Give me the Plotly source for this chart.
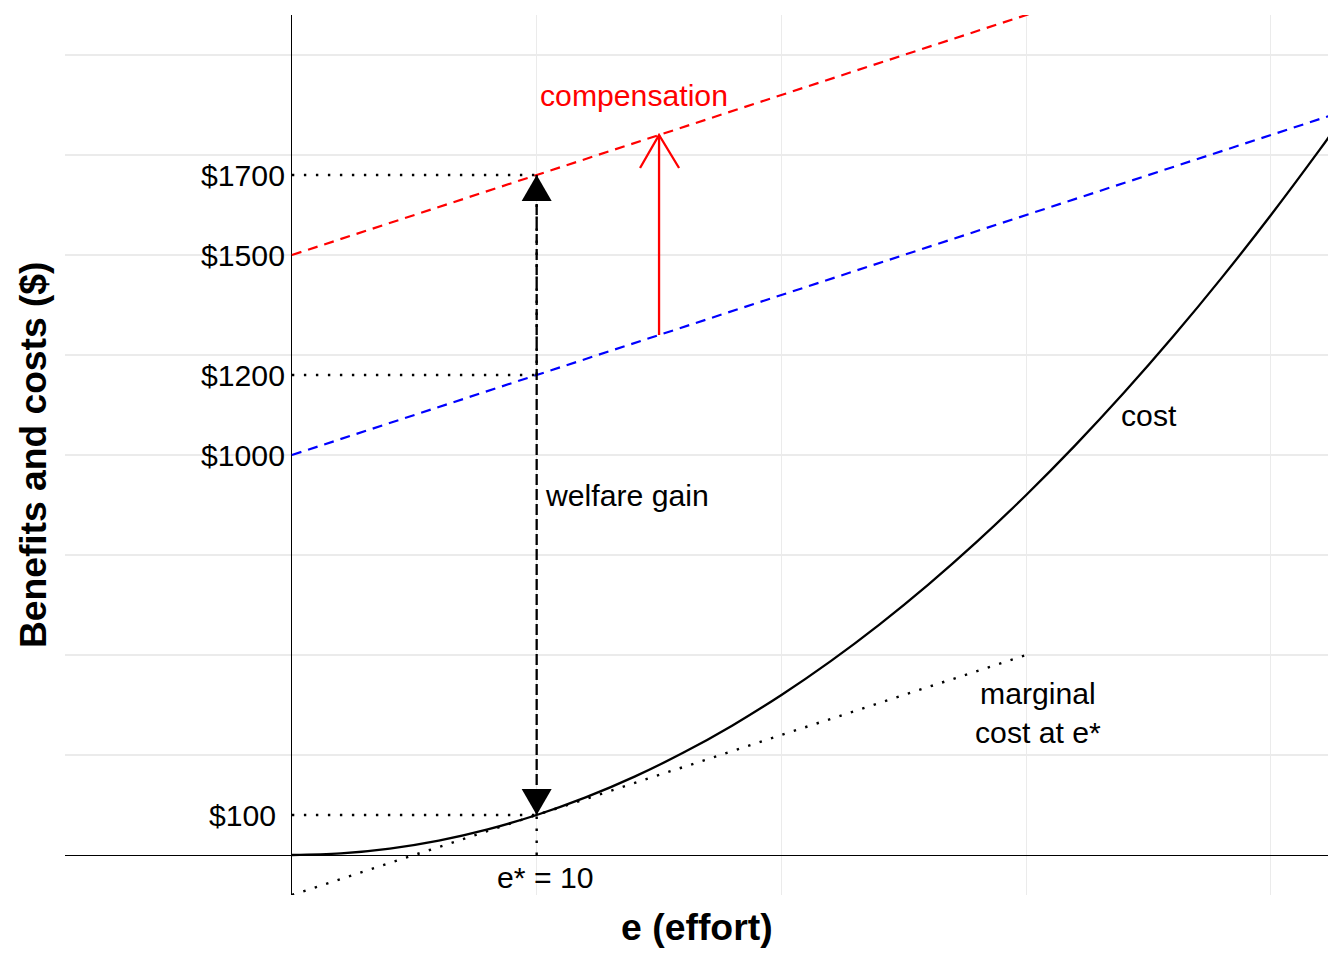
import plotly.graph_objects as go

# ---------------- data ----------------
effort = [0, 2, 4, 6, 8, 10, 12, 14, 16, 18, 20, 22, 24, 26, 28, 30, 32, 34, 36, 38, 40, 42, 42.4]
cost = [0, 4, 16, 36, 64, 100, 144, 196, 256, 324, 400, 484, 576, 676, 784, 900,
        1024, 1156, 1296, 1444, 1600, 1764, 1798]

line_e = [0, 42.4]
benefit_base = [1000, 1848]      # blue dashed
benefit_comp = [1500, 2348]      # red dashed

mc_e = [0, 30]
mc_cost = [-100, 500]            # marginal cost at e*

e_star = 10
guide_levels = [100, 1200, 1700]
guide_labels = ["$100", "$1200", "$1700"]
intercept_levels = [1000, 1500]
intercept_labels = ["$1000", "$1500"]
label_x = -2

welfare_low, welfare_high = 100, 1700
comp_e = 15
comp_low, comp_high = 1300, 1800

x_range = [-9.27, 42.33]
y_range = [-100, 2100]

FONT = "Liberation Sans, Arial, Helvetica, sans-serif"
LBL = 30.2

fig = go.Figure()

# cost curve
fig.add_trace(go.Scatter(x=effort, y=cost, mode="lines", line=dict(color="black", width=2.3, shape="spline"),
                         hoverinfo="skip", showlegend=False))
# marginal cost
fig.add_trace(go.Scatter(x=mc_e, y=mc_cost, mode="lines",
                         line=dict(color="black", width=2.4, dash="2.4px,9.6px"),
                         hoverinfo="skip", showlegend=False))
# benefit lines
fig.add_trace(go.Scatter(x=line_e, y=benefit_base, mode="lines",
                         line=dict(color="#0000FF", width=2.2, dash="10px,7px"),
                         hoverinfo="skip", showlegend=False))
fig.add_trace(go.Scatter(x=line_e, y=benefit_comp, mode="lines",
                         line=dict(color="#FF0000", width=2.2, dash="10px,7px"),
                         hoverinfo="skip", showlegend=False))

dot = dict(color="black", width=2.4, dash="2.4px,9.6px")
# dotted horizontal guides
for lv in guide_levels:
    fig.add_trace(go.Scatter(x=[0, e_star], y=[lv, lv], mode="lines", line=dot,
                             hoverinfo="skip", showlegend=False))
# dotted vertical guides
fig.add_trace(go.Scatter(x=[e_star, e_star], y=[0, guide_levels[0]], mode="lines", line=dot,
                         hoverinfo="skip", showlegend=False))
fig.add_trace(go.Scatter(x=[e_star, e_star], y=[guide_levels[1], guide_levels[2]], mode="lines", line=dot,
                         hoverinfo="skip", showlegend=False))
# welfare gain dashed shaft
fig.add_trace(go.Scatter(x=[e_star, e_star], y=[welfare_low, welfare_high], mode="lines",
                         line=dict(color="black", width=2.3, dash="11px,4px"),
                         hoverinfo="skip", showlegend=False))
# compensation arrow shaft
fig.add_trace(go.Scatter(x=[comp_e, comp_e], y=[comp_low, comp_high], mode="lines",
                         line=dict(color="#FF0000", width=2.3),
                         hoverinfo="skip", showlegend=False))

shapes = [
    dict(type="path", xref="x", yref="y", xsizemode="pixel", ysizemode="pixel",
         xanchor=e_star, yanchor=welfare_high, path="M0,0 L-15,-26 L15,-26 Z",
         fillcolor="black", line=dict(width=0)),
    dict(type="path", xref="x", yref="y", xsizemode="pixel", ysizemode="pixel",
         xanchor=e_star, yanchor=welfare_low, path="M0,0 L-15,26 L15,26 Z",
         fillcolor="black", line=dict(width=0)),
    dict(type="path", xref="x", yref="y", xsizemode="pixel", ysizemode="pixel",
         xanchor=comp_e, yanchor=comp_high, path="M-19,-33 L0,0 L20,-33",
         fillcolor="rgba(0,0,0,0)", line=dict(color="#FF0000", width=2.3)),
]

ann = []
for lv, lb in zip(guide_levels + intercept_levels, guide_labels + intercept_labels):
    ann.append(dict(x=label_x, y=lv, xref="x", yref="y", text=lb, showarrow=False,
                    xanchor="center", yanchor="middle",
                    font=dict(family=FONT, size=LBL, color="black")))
ann += [
    dict(x=e_star, y=1900, xref="x", yref="y", text="compensation", showarrow=False,
         xanchor="left", yanchor="middle", xshift=1, font=dict(family=FONT, size=LBL, color="#FF0000")),
    dict(x=e_star, y=900, xref="x", yref="y", text="welfare gain", showarrow=False,
         xanchor="left", yanchor="middle", xshift=6, font=dict(family=FONT, size=LBL, color="black")),
    dict(x=35, y=1100, xref="x", yref="y", text="cost", showarrow=False,
         xanchor="center", yanchor="middle", font=dict(family=FONT, size=LBL, color="black")),
    dict(x=30.5, y=355, xref="x", yref="y", text="marginal<br>cost at e*", showarrow=False,
         xanchor="center", yanchor="middle", font=dict(family=FONT, size=LBL, color="black")),
    dict(x=10.35, y=-57, xref="x", yref="y", text="e* = 10", showarrow=False,
         xanchor="center", yanchor="middle", font=dict(family=FONT, size=LBL, color="black")),
    dict(x=0.5, y=-0.0364, xref="paper", yref="paper", text="<b>e (effort)</b>", showarrow=False,
         xanchor="center", yanchor="middle", font=dict(family=FONT, size=37.4, color="black")),
    dict(x=-0.0253, y=0.5, xref="paper", yref="paper", text="<b>Benefits and costs ($)</b>",
         showarrow=False, textangle=-90, xanchor="center", yanchor="middle",
         font=dict(family=FONT, size=37.2, color="black")),
]

fig.update_layout(
    width=1344, height=960,
    margin=dict(l=65, r=16, t=15, b=65),
    paper_bgcolor="white", plot_bgcolor="white",
    shapes=shapes, annotations=ann,
    showlegend=False,
    xaxis=dict(range=x_range, showticklabels=False, ticks="", dtick=10, tick0=0,
               showgrid=True, gridcolor="#ebebeb", gridwidth=1.4,
               zeroline=True, zerolinecolor="black", zerolinewidth=1.3, showline=False),
    yaxis=dict(range=y_range, showticklabels=False, ticks="", dtick=250, tick0=0,
               showgrid=True, gridcolor="#ebebeb", gridwidth=1.8,
               zeroline=True, zerolinecolor="black", zerolinewidth=1.3, showline=False),
)

fig.write_html("out.html", config={"displayModeBar": False},
               post_script="document.body.style.margin='0';")
